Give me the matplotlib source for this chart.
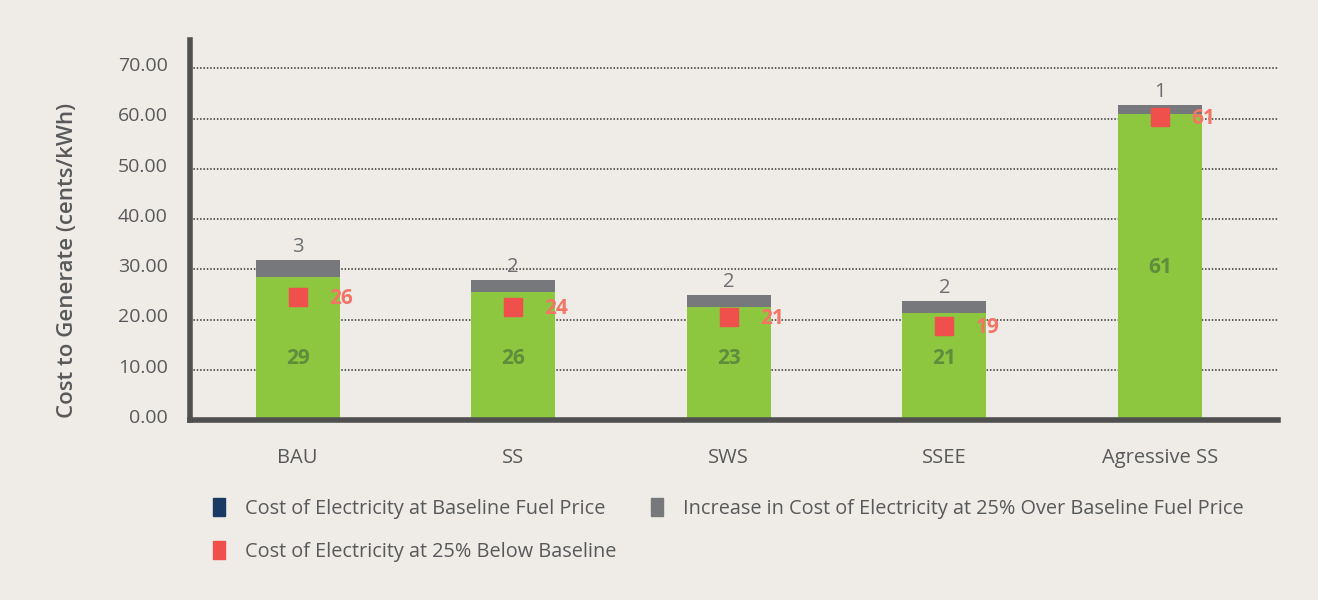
import numpy as np
import matplotlib
matplotlib.use('Agg')
import matplotlib.pyplot as plt
import matplotlib.transforms as mtransforms
from matplotlib.patches import Patch

# Data
scenarios = ['BAU', 'SS', 'SWS', 'SSEE', 'Agressive SS']
baseline = [28.5, 25.4, 22.4, 21.2, 60.9]        # green stack
increase = [3.4, 2.4, 2.4, 2.4, 1.8]             # grey stack on top
below = [24.4, 22.4, 20.6, 18.8, 60.3]           # red squares
baseline_lbl = ['29', '26', '23', '21', '61']
increase_lbl = ['3', '2', '2', '2', '1']
below_lbl = ['26', '24', '21', '19', '61']

bg = '#efece8'
green = '#8dc63f'
grey = '#77787b'
red = '#f0504c'
navy = '#1b3a63'
txt = '#58595b'

plt.rcParams['font.family'] = ['Open Sans', 'DejaVu Sans']

fig = plt.figure(figsize=(13.18, 6), dpi=100, facecolor=bg)
ax = fig.add_axes([0.144, 0.30, 0.826, 0.633])
ax.set_facecolor(bg)

x = np.arange(len(scenarios))
w = 0.39
ax.bar(x, baseline, width=w, color=green, zorder=2)
ax.bar(x, increase, width=w, bottom=baseline, color=grey, zorder=2)
ax.plot(x, below, 's', color=red, markersize=13, zorder=3)

# green labels sit low in the short bars, mid-bar in the tall one
lbl_y = [12.2, 12.2, 12.2, 12.2, 30.4]
for i in range(len(x)):
    ax.text(x[i], lbl_y[i], baseline_lbl[i], ha='center', va='center',
            fontsize=15, fontweight='bold', color='#5e8d3c', zorder=4)
    ax.text(x[i], baseline[i] + increase[i] + 0.6, increase_lbl[i], ha='center',
            va='bottom', fontsize=14.5, color='#6d6e71', zorder=4)
    ax.text(x[i] + 0.145, below[i] - 0.3, below_lbl[i], ha='left', va='center',
            fontsize=15, fontweight='bold', color='#f47566', zorder=4)

ax.set_xlim(-0.5, 4.55)
ax.set_ylim(0, 75.6)
ax.set_yticks(np.arange(0, 80, 10))
ax.set_yticklabels(['%.2f' % v for v in np.arange(0, 80, 10)])
ax.set_xticks(x)
ax.set_xticklabels(scenarios)
ax.tick_params(length=0, colors=txt)
ax.tick_params(axis='x', pad=20, labelsize=14.5)
ax.tick_params(axis='y', pad=16, labelsize=14)
shift = mtransforms.ScaledTranslation(0, 3 / 72, fig.dpi_scale_trans)
for t in ax.get_yticklabels():
    t.set_transform(t.get_transform() + shift)

ax.yaxis.grid(True, linestyle=(0, (1, 1.2)), color='#333333', linewidth=1.1, zorder=1)
ax.set_axisbelow(True)
for s in ['top', 'right']:
    ax.spines[s].set_visible(False)
for s in ['left', 'bottom']:
    ax.spines[s].set_color('#505050')
    ax.spines[s].set_linewidth(4)

ax.set_ylabel('Cost to Generate (cents/kWh)', fontsize=16, fontweight='semibold',
              color=txt)
ax.yaxis.set_label_coords(-0.103, 0.42)

handles = [Patch(color=navy), Patch(color=red), Patch(color=grey)]
labels = ['Cost of Electricity at Baseline Fuel Price',
          'Cost of Electricity at 25% Below Baseline',
          'Increase in Cost of Electricity at 25% Over Baseline Fuel Price']
leg = fig.legend(handles, labels, ncol=2, loc='upper left',
                 bbox_to_anchor=(0.148, 0.2), frameon=False,
                 handlelength=0.6, handleheight=1.0, handletextpad=1.0,
                 columnspacing=1.75, labelspacing=1.15, fontsize=14.3,
                 labelcolor=txt)

fig.savefig('out.png', dpi=100, facecolor=bg)
